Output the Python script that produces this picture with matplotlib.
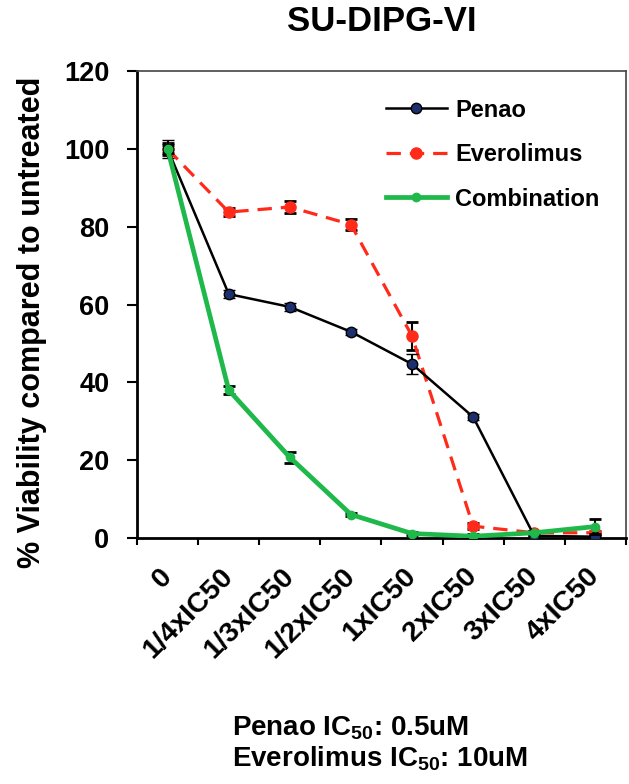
import matplotlib
matplotlib.use('Agg')
import matplotlib.pyplot as plt
from matplotlib.lines import Line2D

plt.rcParams['font.family'] = ['Liberation Sans', 'DejaVu Sans']
plt.rcParams['font.weight'] = 'bold'
plt.rcParams['mathtext.fontset'] = 'custom'
plt.rcParams['mathtext.rm'] = 'Liberation Sans:bold'
plt.rcParams['mathtext.it'] = 'Liberation Sans:bold'
plt.rcParams['mathtext.bf'] = 'Liberation Sans:bold'

# doses and viability (% of untreated)
doses = ['0', '1/4xIC50', '1/3xIC50', '1/2xIC50', '1xIC50', '2xIC50', '3xIC50', '4xIC50']
penao = [100, 62.7, 59.4, 53.0, 44.7, 31.1, 0.5, 0.3]
penao_err = [2.3, 1.0, 1.0, 0.8, 2.5, 0.8, 0.5, 0.5]
everolimus = [100, 83.8, 85.1, 80.6, 51.9, 3.0, 1.3, 1.3]
everolimus_err = [1.5, 1.0, 1.5, 1.5, 3.5, 0.8, 0.5, 0.5]
combination = [100, 38.0, 20.7, 6.0, 1.1, 0.4, 1.3, 2.9]
combination_err = [1.0, 1.0, 1.5, 0.5, 0.5, 0.5, 0.5, 1.9]

x = list(range(len(doses)))

fig = plt.figure(figsize=(6.29, 7.84), dpi=100)
ax = fig.add_axes([0.218, 0.314, 0.777, 0.595])

red = '#ff2a1a'
green = '#1fb84a'
pen_style = dict(color='black', lw=1.8, marker='o', ms=7.5, mfc='#1c2f6e',
                 mec='black', mew=1.0)
eve_style = dict(color=red, lw=2.3, ls=(0, (4.5, 2.8)), marker='o', ms=8,
                 mfc=red, mec=red)
com_style = dict(color=green, lw=3.4, marker='o', ms=6, mfc=green, mec=green)
err_style = dict(ecolor='black', elinewidth=1.5, capsize=4, capthick=2)

ax.errorbar(x, penao, yerr=penao_err, zorder=3, **pen_style, **err_style)
ax.errorbar(x, everolimus, yerr=everolimus_err, zorder=2, **eve_style, **err_style)
ax.errorbar(x, combination, yerr=combination_err, zorder=4, **com_style, **err_style)

ax.set_xlim(-0.5, 7.5)
ax.set_ylim(0, 120)
ax.set_yticks([0, 20, 40, 60, 80, 100, 120])
ax.tick_params(axis='y', labelsize=19.5, length=7, width=1.5, direction='out',
               pad=13)

ax.set_xticks(x)
ax.set_xticklabels(doses, rotation=45, ha='right', va='center',
                   rotation_mode='anchor', fontsize=20.5)
ax.tick_params(axis='x', which='major', length=0, pad=25)
ax.set_xticks([i - 0.5 for i in range(len(doses) + 1)], minor=True)
ax.tick_params(axis='x', which='minor', length=5, width=1.5, direction='out')

for sp in ['left', 'bottom']:
    ax.spines[sp].set_linewidth(2)
for sp in ['top', 'right']:
    ax.spines[sp].set_linewidth(1.2)
    ax.spines[sp].set_color('#444444')

handles = [Line2D([], [], **pen_style), Line2D([], [], **eve_style),
           Line2D([], [], **com_style)]
ax.legend(handles, ['Penao', 'Everolimus', 'Combination'], loc='upper left',
          bbox_to_anchor=(0.465, 0.987), frameon=False, fontsize=17,
          handlelength=2.6, handletextpad=0.35, labelspacing=0.91)

fig.text(0.607, 0.972, 'SU-DIPG-VI', ha='center', va='center', fontsize=25,
         fontweight='bold')
fig.text(0.051, 0.589, '% Viability compared to untreated', rotation=90,
         ha='center', va='center', fontsize=22, fontweight='bold')
fig.text(0.369, 0.0625, r'Penao IC$_{50}$: 0.5uM', ha='left', va='baseline',
         fontsize=20, fontweight='bold')
fig.text(0.369, 0.0217, r'Everolimus IC$_{50}$: 10uM', ha='left', va='baseline',
         fontsize=20, fontweight='bold')

fig.savefig('out.png', dpi=100)
